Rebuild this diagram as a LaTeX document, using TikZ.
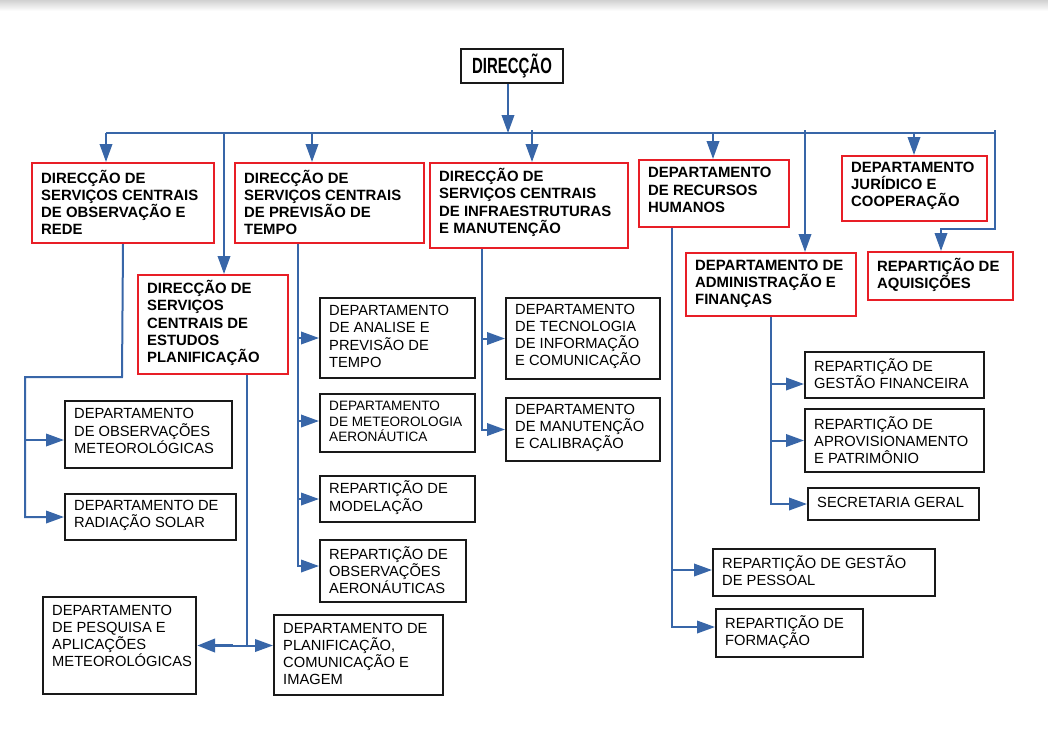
\documentclass[tikz,border=0pt]{standalone}
\usepackage{fontspec}
\usepackage{graphicx}
\setmainfont{Liberation Sans}
\usetikzlibrary{arrows.meta,calc}
\definecolor{connc}{RGB}{56,102,168}
\definecolor{redb}{RGB}{232,30,38}
\tikzset{
 redbox/.style={draw=redb, line width=2pt, inner sep=0pt},
 blkbox/.style={draw=black!90, line width=2pt, inner sep=0pt},
 btxt/.style={font=\fontsize{14.9}{17.2}\selectfont\bfseries, align=left, inner sep=0pt, anchor=west},
 rtxt/.style={font=\fontsize{14.7}{17.2}\selectfont, align=left, inner sep=0pt, anchor=west},
 stxt/.style={font=\fontsize{13.6}{15.6}\selectfont, align=left, inner sep=0pt, anchor=west},
 conn/.style={draw=connc, line width=2pt},
 arr/.style={conn, -{Triangle[length=18pt,width=12.5pt]}},
}
% #1 box style, #2 name, #3 x1, #4 y1, #5 x2, #6 y2, #7 text centre y, #8 text style, #9 text
\newcommand\orgbox[9]{%
 \node[#1, minimum width={#5-#3}, minimum height={#6-#4}, anchor=north west] (#2) at (#3,-#4) {};
 \node[#8] (#2t) at (#3+10,-#7) {#9};}
\begin{document}
\begin{tikzpicture}[x=1pt,y=1pt]
\useasboundingbox (0,0) rectangle (1048,-740);
\fill[white] (0,0) rectangle (1048,-740);
\shade[top color=black!18, bottom color=white] (0,0) rectangle (1048,-11);

% top
\node[blkbox, minimum width=102, minimum height=34, anchor=north west] (dir) at (460,-48) {};
\node[inner sep=0pt] (dirt) at (dir.center) {\fontsize{22}{22}\selectfont\bfseries\scalebox{0.68}[1]{DIRECÇÃO}};

% red boxes
\orgbox{redbox}{b1}{31}{162}{213}{242}{202.5}{btxt}{DIRECÇÃO DE\\SERVIÇOS CENTRAIS\\DE OBSERVAÇÃO E\\REDE}
\orgbox{redbox}{b2}{234}{162}{423}{242}{202.5}{btxt}{DIRECÇÃO DE\\SERVIÇOS CENTRAIS\\DE PREVISÃO DE\\TEMPO}
\orgbox{redbox}{b3}{429}{162}{627}{247}{202.5}{btxt}{DIRECÇÃO DE\\SERVIÇOS CENTRAIS\\DE INFRAESTRUTURAS\\E MANUTENÇÃO}
\orgbox{redbox}{b4}{638}{159}{788}{226}{190}{btxt}{DEPARTAMENTO\\DE RECURSOS\\HUMANOS}
\orgbox{redbox}{b5}{841}{155}{986}{220}{186}{btxt}{DEPARTAMENTO\\JURÍDICO E\\COOPERAÇÃO}
\orgbox{redbox}{bEP}{137}{274}{287}{373}{323}{btxt}{DIRECÇÃO DE\\SERVIÇOS\\CENTRAIS DE\\ESTUDOS\\PLANIFICAÇÃO}
\orgbox{redbox}{bAF}{685}{252}{855}{315}{284}{btxt}{DEPARTAMENTO DE\\ADMINISTRAÇÃO E\\FINANÇAS}
\orgbox{redbox}{bAQ}{867}{251}{1012}{299}{275}{btxt}{REPARTIÇÃO DE\\AQUISIÇÕES}

% black boxes
\orgbox{blkbox}{dOM}{64}{400}{231}{467}{431}{rtxt}{DEPARTAMENTO\\DE OBSERVAÇÕES\\METEOROLÓGICAS}
\orgbox{blkbox}{dRS}{64}{493}{235}{539}{515.5}{rtxt}{DEPARTAMENTO DE\\RADIAÇÃO SOLAR}
\orgbox{blkbox}{dPA}{42}{596}{195}{693}{636}{rtxt}{DEPARTAMENTO\\DE PESQUISA E\\APLICAÇÕES\\METEOROLÓGICAS}
\orgbox{blkbox}{dPC}{273}{614}{442}{694}{654}{rtxt}{DEPARTAMENTO DE\\PLANIFICAÇÃO,\\COMUNICAÇÃO E\\IMAGEM}
\orgbox{blkbox}{dAP}{319}{297}{474}{377}{336.5}{rtxt}{DEPARTAMENTO\\DE ANALISE E\\PREVISÃO DE\\TEMPO}
\orgbox{blkbox}{dMA}{319}{393}{474}{451}{421.5}{stxt}{DEPARTAMENTO\\DE METEOROLOGIA\\AERONÁUTICA}
\orgbox{blkbox}{rMO}{319}{475}{474}{521}{497.5}{rtxt}{REPARTIÇÃO DE\\MODELAÇÃO}
\orgbox{blkbox}{rOA}{319}{539}{465}{601}{570}{rtxt}{REPARTIÇÃO DE\\OBSERVAÇÕES\\AERONÁUTICAS}
\orgbox{blkbox}{dTI}{505}{297}{659}{378}{336.5}{rtxt}{DEPARTAMENTO\\DE TECNOLOGIA\\DE INFORMAÇÃO\\E COMUNICAÇÃO}
\orgbox{blkbox}{dMC}{505}{397}{659}{460}{428}{rtxt}{DEPARTAMENTO\\DE MANUTENÇÃO\\E CALIBRAÇÃO}
\orgbox{blkbox}{rGF}{804}{351}{983}{397}{374}{rtxt}{REPARTIÇÃO DE\\GESTÃO FINANCEIRA}
\orgbox{blkbox}{rAP}{804}{408}{983}{471}{440}{rtxt}{REPARTIÇÃO DE\\APROVISIONAMENTO\\E PATRIMÔNIO}
\orgbox{blkbox}{rSG}{807}{487}{978}{519}{502.5}{rtxt}{SECRETARIA GERAL}
\orgbox{blkbox}{rGP}{712}{548}{934}{595}{571}{rtxt}{REPARTIÇÃO DE GESTÃO\\DE PESSOAL}
\orgbox{blkbox}{rFO}{715}{608}{862}{656}{632}{rtxt}{REPARTIÇÃO DE\\FORMAÇÃO}

% bus
\coordinate (busL) at (106,-133);
\coordinate (busR) at (996,-133);
\coordinate (tEP) at (224,-133);
\coordinate (t2) at (312,-133);
\coordinate (t3) at (532,-130);
\coordinate (t4) at (713,-133);
\coordinate (tAF) at (805,-130);
\coordinate (t5) at (914,-133);
\coordinate (tAQ) at (995,-130);
\coordinate (kAQ) at (995,-229);
\coordinate (kAQ2) at (941,-229);
\draw[conn] (busL) -- (busR);
\draw[arr] ([xshift=-4pt]dir.south) -- ([xshift=-4pt]dir.south |- busL);
\draw[arr] (busL) -- (busL |- b1.north);
\draw[arr] (tEP) -- (tEP |- bEP.north);
\draw[arr] (t2) -- (t2 |- b2.north);
\draw[arr] (t3) -- (t3 |- b3.north);
\draw[arr] (t4) -- (t4 |- b4.north);
\draw[arr] (tAF) -- (tAF |- bAF.north);
\draw[arr] (t5) -- (t5 |- b5.north);
\draw[arr] (tAQ) -- (kAQ) -- (kAQ2) -- (kAQ2 |- bAQ.north);

% observação e rede
\coordinate (c1a) at (122,-377);
\coordinate (c1b) at (25,-377);
\coordinate (c1o) at (25,-440);
\draw[arr] (b1.south) -- (c1a) -- (c1b) |- (dRS.west);
\draw[arr] (c1o) -- (c1o -| dOM.west);

% previsão de tempo
\coordinate (c2) at (298,0);
\draw[arr] (b2.south -| c2) |- ([yshift=5pt]rOA.west);
\draw[arr] (c2 |- dAP.west) -- (dAP.west);
\draw[arr] ([yshift=2pt]dMA.west -| c2) -- ([yshift=2pt]dMA.west);
\draw[arr] (c2 |- rMO.west) -- (rMO.west);

% estudos e planificação
\coordinate (cEP) at (247,0);
\coordinate (cPA) at (233,0);
\draw[conn] (bEP.south -| cEP) -- (cEP |- dPA.east);
\draw[arr] (cEP |- dPA.east) -- (dPC.west |- dPA.east);
\draw[conn] (cEP |- dPA.east) -- (cPA |- dPA.east);
\draw[conn, line width=3.6pt, -{Triangle[length=18pt,width=13pt]}] (cPA |- dPA.east) -- (dPA.east);

% infraestruturas
\coordinate (c3) at (482,0);
\draw[arr] (b3.south -| c3) |- (dMC.west);
\draw[arr] (c3 |- dTI.west) -- (dTI.west);

% recursos humanos
\coordinate (c4) at (672,0);
\draw[arr] (b4.south -| c4) |- ([yshift=6pt]rFO.west);
\draw[arr] ([yshift=2.5pt]rGP.west -| c4) -- ([yshift=2.5pt]rGP.west);

% administração e finanças
\coordinate (cAF) at (771,0);
\draw[arr] (bAF.south -| cAF) |- (rSG.west);
\draw[arr] ([yshift=-9pt]rGF.west -| cAF) -- ([yshift=-9pt]rGF.west);
\draw[arr] (cAF |- rAP.west) -- (rAP.west);
\end{tikzpicture}
\end{document}
